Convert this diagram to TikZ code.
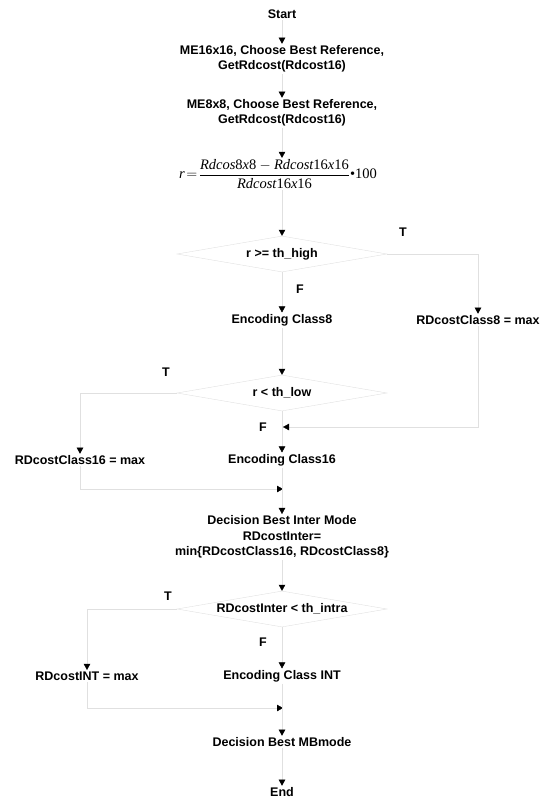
\documentclass[tikz,border=0pt]{standalone}
\usepackage{fontspec}
\setmainfont{Liberation Sans}
\newfontfamily\tms{Liberation Serif}
\usetikzlibrary{arrows.meta,shapes.geometric}
\newcommand{\rdi}[1]{\mbox{\tms\itshape #1}}
\newcommand{\rdu}[1]{\mbox{\tms #1}}
\tikzset{
  txt/.style={font=\bfseries\fontsize{12.5}{15.5}\selectfont, align=center, inner sep=1.5pt},
  cond/.style={txt, diamond, aspect=6, draw=black!12, minimum width=210pt, minimum height=36pt, inner sep=0pt},
  flow/.style={draw=black!12, -{Triangle[color=black,width=6.5pt,length=6pt]}}
}
\begin{document}
\begin{tikzpicture}[x=1pt,y=-1pt]
\useasboundingbox (0,0) rectangle (549,803);
% main column
\node[txt] (start) at (282,14) {Start};
\node[txt] (me16) at (282,59) {ME16x16, Choose Best Reference,\\GetRdcost(Rdcost16)};
\node[txt] (me8) at (282,113) {ME8x8, Choose Best Reference,\\GetRdcost(Rdcost16)};
\node[inner sep=1pt, font=\fontsize{14.5}{18}\selectfont] (ratio) at (278,174)
  {$\displaystyle \rdi{r}\!=\!\frac{\rdi{Rdcos}\rdu{8}\rdi{x}\rdu{8} - \rdi{Rdcost}\rdu{16}\rdi{x}\rdu{16}}{\rdi{Rdcost}\rdu{16}\rdi{x}\rdu{16}}\rdu{\textbullet100}$};
\node[cond] (hi) at (282,254) {r >= th\_high};
\node[txt] (c8) at (282,320) {Encoding Class8};
\node[cond] (lo) at (282,393) {r < th\_low};
\node[txt] (c16) at (282,460) {Encoding Class16};
\node[txt] (inter) at (282,537) {Decision Best Inter Mode\\RDcostInter=\\min\{RDcostClass16, RDcostClass8\}};
\node[cond] (intra) at (282,609) {RDcostInter < th\_intra};
\node[txt] (cint) at (282,676) {Encoding Class INT};
\node[txt] (mb) at (282,742) {Decision Best MBmode};
\node[txt] (end) at (282,792) {End};
% side branches
\node[txt] (c8max) at (478,320) {RDcostClass8 = max};
\node[txt] (c16max) at (80,460) {RDcostClass16 = max};
\node[txt] (cintmax) at (87,676) {RDcostINT = max};
\coordinate (j1) at (283,427);
\coordinate (j2) at (283,489);
\coordinate (j3) at (283,708);
% labels
\node[txt] (t1) at (403,232) {T};
\node[txt] (f1) at (300,289) {F};
\node[txt] (t2) at (166,372) {T};
\node[txt] (f2) at (263,427) {F};
\node[txt] (t3) at (168,596) {T};
\node[txt] (f3) at (263,642) {F};
% connectors
\draw[flow] (start) -- (me16);
\draw[flow] (me16) -- (me8);
\draw[flow] (me8) -- (me8 |- ratio.north);
\draw[flow] (hi |- ratio.south) -- (hi.north);
\draw[flow] (hi.east) -| (c8max.north);
\draw[flow] (hi.south) -- (c8);
\draw[flow] (c8) -- (lo.north);
\draw[flow] (c8max.south) |- (j1);
\draw[flow] (lo.west) -| (c16max.north);
\draw[flow] (lo.south) -- (c16);
\draw[flow] (c16max.south) |- (j2);
\draw[flow] (c16) -- (inter);
\draw[flow] (inter) -- (intra.north);
\draw[flow] (intra.west) -| (cintmax.north);
\draw[flow] (intra.south) -- (cint);
\draw[flow] (cintmax.south) |- (j3);
\draw[flow] (cint) -- (mb);
\draw[flow] (mb) -- (end);
\end{tikzpicture}
\end{document}
